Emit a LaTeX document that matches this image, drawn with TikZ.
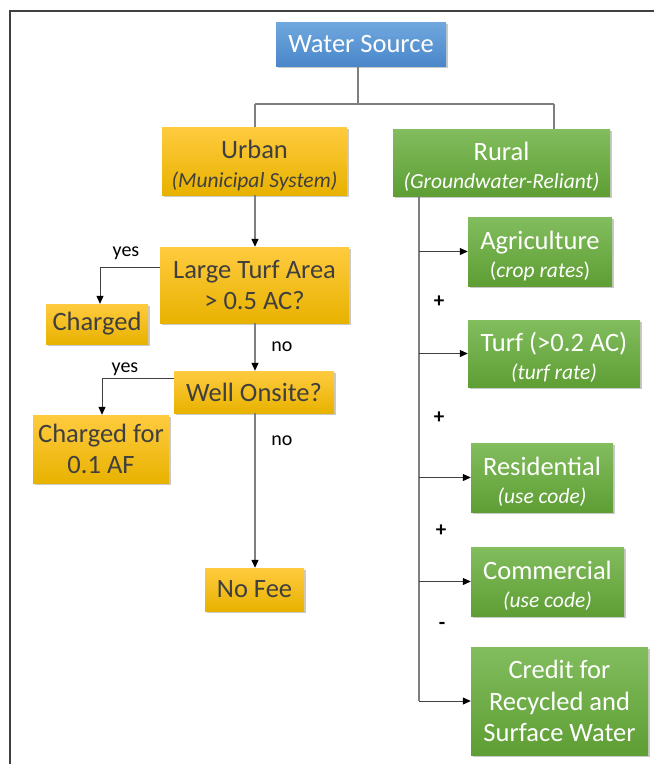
\documentclass[tikz,border=0pt]{standalone}
\usepackage{fontspec}
\setmainfont{Carlito}
\usetikzlibrary{arrows.meta,shadows}
\definecolor{ytop}{HTML}{FFCB3F}
\definecolor{ymid}{HTML}{FFC000}
\definecolor{ybot}{HTML}{E8B200}
\definecolor{ytext}{HTML}{3F3F3F}
\definecolor{gtop}{HTML}{82BD5E}
\definecolor{gmid}{HTML}{6FAE45}
\definecolor{gbot}{HTML}{5E9E34}
\definecolor{btop}{HTML}{70A8DE}
\definecolor{bbot}{HTML}{4A87CA}
\definecolor{linegray}{HTML}{7F7F7F}
\definecolor{framegray}{HTML}{404040}
\tikzset{
  box/.style={rectangle, inner sep=0pt, align=center,
    drop shadow={shadow xshift=1.5pt, shadow yshift=-2pt, opacity=0.3, fill=black!70}},
  ybox/.style={box, top color=ytop, middle color=ymid, bottom color=ybot, text=ytext},
  gbox/.style={box, top color=gtop, middle color=gmid, bottom color=gbot, text=white},
  bbox/.style={box, top color=btop, bottom color=bbot, text=white},
  conn/.style={draw=linegray, line width=1.2pt},
  arr/.style={conn, -{Triangle[length=8pt,width=7pt,color=black]}},
  darr/.style={draw=framegray, line width=1pt, -{Triangle[length=8pt,width=7pt,color=black]}},
  lbl/.style={font=\fontsize{20}{24}\selectfont, text=black},
  sgn/.style={font=\fontsize{21}{24}\selectfont\bfseries, text=black},
  big/.style={font=\fontsize{26.5}{31.5}\selectfont},
}
\newcommand{\subt}[1]{{\fontsize{21.5}{25}\selectfont\itshape #1}}
\newcommand{\tallstrut}{\rule{0pt}{27pt}}
\begin{document}
\begin{tikzpicture}[x=1pt,y=-1pt]
\useasboundingbox (0,0) rectangle (654,764);
\draw[framegray, line width=1.5pt] (10,764) -- (10,11) -- (654,11);

\node[bbox, big, minimum width=170pt, minimum height=44pt] (ws) at (361,44) {Water Source};
\node[ybox, big, minimum width=185pt, minimum height=68pt] (urban) at (254.5,161) {\tallstrut Urban\\[-3pt]\subt{(Municipal System)}};
\node[gbox, big, minimum width=217pt, minimum height=67pt] (rural) at (501.5,162.5) {\tallstrut Rural\\[-3pt]\subt{(Groundwater-Reliant)}};
\node[ybox, big, minimum width=189pt, minimum height=76pt] (lturf) at (254.5,285) {Large Turf Area\\> 0.5 AC?};
\node[ybox, big, minimum width=102pt, minimum height=40pt] (charged) at (97,324) {Charged};
\node[ybox, big, minimum width=160pt, minimum height=42pt] (well) at (254,392) {Well Onsite?};
\node[ybox, big, minimum width=136pt, minimum height=68pt] (cf) at (101,449) {Charged for\\0.1 AF};
\node[ybox, big, minimum width=99pt, minimum height=43pt] (nofee) at (254.5,589.5) {No Fee};

\node[gbox, big, minimum width=144pt, minimum height=69pt] (agri) at (540,251.5) {\tallstrut Agriculture\\[-3pt]{\fontsize{21.5}{25}\selectfont(\textit{crop rates})}};
\node[gbox, big, minimum width=172pt, minimum height=67pt] (turf) at (554,353.5) {\tallstrut Turf (>0.2 AC)\\[-3pt]\subt{(turf rate)}};
\node[gbox, big, minimum width=142pt, minimum height=69pt] (res) at (542,477.5) {\tallstrut Residential\\[-3pt]\subt{(use code)}};
\node[gbox, big, minimum width=153pt, minimum height=69pt] (com) at (547.5,581.5) {\tallstrut Commercial\\[-3pt]\subt{(use code)}};
\node[gbox, big, minimum width=177pt, minimum height=108pt] (credit) at (559.5,701) {Credit for\\Recycled and\\Surface Water};

% top tree
\coordinate (split) at (358,104);
\coordinate (sl) at (255,104);
\coordinate (sr) at (554,104);
\draw[conn] (ws.south -| split) -- (split);
\draw[conn] (sl) -- (sr);
\draw[conn] (sl) -- (urban.north -| sl);
\draw[conn] (sr) -- (rural.north -| sr);

% urban branch
\coordinate (ux) at (255,0);
\coordinate (b1) at (100,267);
\coordinate (b2) at (102,378);
\draw[arr] (urban.south -| ux) -- (lturf.north -| ux);
\draw[darr] (lturf.west |- b1) -- (b1) -- (charged.north -| b1);
\draw[arr] (lturf.south -| ux) -- (well.north -| ux);
\draw[darr] (well.west |- b2) -- (b2) -- (cf.north -| b2);
\draw[arr] (well.south -| ux) -- (nofee.north -| ux);

\node[lbl] (y1) at (126,253) {yes};
\node[lbl] (y2) at (125,369) {yes};
\node[lbl] (n1) at (282,347) {no};
\node[lbl] (n2) at (282,441) {no};

% rural branch
\coordinate (ttop) at (419,196);
\coordinate (tbot) at (credit.west -| ttop);
\draw[conn] (rural.south -| ttop) -- (tbot);
\draw[darr] (agri.west -| ttop) -- (agri.west);
\draw[darr] (turf.west -| ttop) -- (turf.west);
\draw[darr] (res.west -| ttop) -- (res.west);
\draw[darr] (com.west -| ttop) -- (com.west);
\draw[darr] (tbot) -- (credit.west);

\node[sgn] (p1) at (439,302) {+};
\node[sgn] (p2) at (439,418) {+};
\node[sgn] (p3) at (441,531) {+};
\node[sgn] (m1) at (442,626) {-};
\end{tikzpicture}
\end{document}
